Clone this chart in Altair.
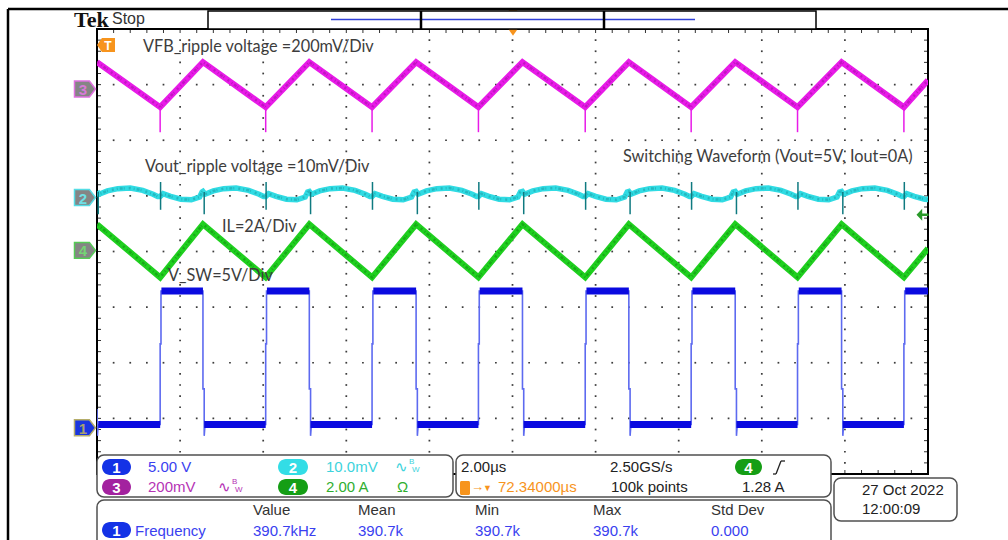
import altair as alt
import pandas as pd

# ------------------------------------------------------------------
# Acquisition: 2.00 us/div over 10 divisions, trigger at screen centre
# ------------------------------------------------------------------
T_MIN, T_MAX = -10.0, 10.0
D_MIN, D_MAX = -4.0, 4.0
T_GRID = [-10, -8, -6, -4, -2, 0, 2, 4, 6, 8, 10]
D_GRID = [-4, -3, -2, -1, 0, 1, 2, 3, 4]

# units per division and ground-marker offset (divisions) of each channel
ch_scale = {1: 5.0, 2: 10.0, 3: 200.0, 4: 2.0}      # V, mV, mV, A
ch_pos = {1: -3.17, 2: 0.97, 3: 2.92, 4: 0.02}

# switch-node edges (us)
sw_rise = [-8.48, -5.94, -3.38, -0.82, 1.75, 4.30, 6.86, 9.42]
sw_fall = [-10.00, -7.45, -4.89, -2.32, 0.24, 2.80, 5.36, 7.92]

# CH1  V_SW (V)
sw_high, sw_low = 12.3, 0.3
sw_rise_step, sw_fall_step, sw_undershoot, sw_left_top = 7.55, 3.5, -0.72, 1.7

# CH4  IL (A)
il_peak, il_valley, il_right = 0.94, -0.97, 0.07

# CH3  VFB ripple (mV)
vfb_peak, vfb_valley, vfb_spike, vfb_right = 97.0, -65.0, -155.0, 32.0

# CH2  Vout ripple (mV): shape after a rising and after a falling edge
vout_on_dt = [0.00, 0.07, 0.25, 0.50, 0.75, 0.95, 1.01]
vout_on_mv = [0.2, 0.7, 0.2, -0.3, -0.4, 0.1, 1.0]
vout_off_dt = [0.00, 0.05, 0.25, 0.50, 0.80, 1.10, 1.35, 1.46]
vout_off_mv = [1.1, 0.6, 1.2, 1.6, 1.7, 1.3, 0.6, 0.2]
vout_right = -0.2
vout_on_spike = [2.8, -2.2]
vout_off_spike = [1.0, -3.0]

trig_level = 1.28  # A on CH4

# trace colours
MAG, MAG_DK = "#e81be8", "#7a0c7a"
CYN, CYN_DK = "#30dbe3", "#0f7a80"
GRN, GRN_DK = "#1fd01f", "#0a640a"
BLU, BLU_EDGE = "#0a0ae0", "#5d6af0"
ORANGE = "#f7941d"
NOISE_DASH = [2, 3, 1, 2, 3, 1, 1, 4]

# page layout of the graticule
PX0, PY0, W, H = 97, 29, 831, 445

xs = alt.Scale(domain=[T_MIN, T_MAX], nice=False, zero=False)
ys = alt.Scale(domain=[D_MIN, D_MAX], nice=False, zero=False)
X = alt.X("t:Q", scale=xs, axis=None)
Y = alt.Y("d:Q", scale=ys, axis=None)


def div(ch, v):
    return ch_pos[ch] + v / ch_scale[ch]


edges = sorted([(t, "fall") for t in sw_fall] + [(t, "rise") for t in sw_rise])


def frame(rows, cols=("t", "d")):
    df = pd.DataFrame(rows, columns=list(cols))
    df["o"] = range(len(df))
    return df


def tri_trace(ch, peak, valley, right):
    rows = [(t, div(ch, peak if k == "fall" else valley)) for t, k in edges]
    rows.append((T_MAX, div(ch, right)))
    return frame(rows)


vfb_df = tri_trace(3, vfb_peak, vfb_valley, vfb_right)
il_df = tri_trace(4, il_peak, il_valley, il_right)

vout_rows = []
for t, k in edges:
    dts, mvs = (vout_off_dt, vout_off_mv) if k == "fall" else (vout_on_dt, vout_on_mv)
    vout_rows += [(t + a, div(2, b)) for a, b in zip(dts, mvs)]
vout_rows.append((T_MAX, div(2, vout_right)))
vout_df = frame(vout_rows)

# switch node: thin edges plus heavy flat levels
sw_rows = [(T_MIN, div(1, sw_left_top)), (T_MIN + 0.01, div(1, sw_undershoot)),
           (T_MIN + 0.03, div(1, sw_low))]
for t, k in edges[1:]:
    if k == "rise":
        sw_rows += [(t, div(1, sw_low)), (t, div(1, sw_rise_step)),
                    (t + 0.02, div(1, sw_rise_step)), (t + 0.02, div(1, sw_high))]
    else:
        sw_rows += [(t, div(1, sw_high)), (t, div(1, sw_fall_step)),
                    (t + 0.03, div(1, sw_fall_step)), (t + 0.03, div(1, sw_undershoot)),
                    (t + 0.05, div(1, sw_low))]
sw_rows.append((T_MAX, div(1, sw_high)))
sw_df = frame(sw_rows)

flat_rows = []
for i, (t, k) in enumerate(edges):
    t_next = edges[i + 1][0] if i + 1 < len(edges) else T_MAX
    flat_rows.append((t + 0.03, t_next, div(1, sw_high if k == "rise" else sw_low)))
flat_df = pd.DataFrame(flat_rows, columns=["t", "t2", "d"])

spike_rows = []
for t in sw_rise:
    spike_rows.append((t, div(3, vfb_valley), div(3, vfb_spike), MAG))
    spike_rows.append((t + 0.01, div(2, vout_on_spike[0]), div(2, vout_on_spike[1]), CYN_DK))
for t in sw_fall:
    spike_rows.append((t + 0.03, div(2, vout_off_spike[0]), div(2, vout_off_spike[1]), CYN_DK))
spike_df = pd.DataFrame(spike_rows, columns=["t", "d", "d2", "c"])

one = pd.DataFrame({"t": [0.0], "d": [0.0]})

# ---------------- graticule: dotted division lines, 5 dots per division ----------------
dot_rows = []
for t in T_GRID[1:-1]:
    dot_rows += [(t, D_MIN + 0.2 * k) for k in range(1, 40)]
for d in D_GRID[1:-1]:
    dot_rows += [(T_MIN + 0.4 * k, d) for k in range(1, 50) if (k % 5) != 0]
dots = alt.Chart(pd.DataFrame(dot_rows, columns=["t", "d"])).mark_square(
    size=3, color="#3c3c3c", opacity=1).encode(x=X, y=Y)

t_minor = pd.DataFrame({"t": [T_MIN + 0.4 * k for k in range(1, 50)]})
d_minor = pd.DataFrame({"d": [D_MIN + 0.2 * k for k in range(1, 40)]})
ticks = [
    alt.Chart(t_minor).mark_rule(color="#333", strokeWidth=1).encode(
        x=X, y=alt.value(0), y2=alt.value(4)),
    alt.Chart(t_minor).mark_rule(color="#333", strokeWidth=1).encode(
        x=X, y=alt.value(H - 4), y2=alt.value(H)),
    alt.Chart(d_minor).mark_rule(color="#333", strokeWidth=1).encode(
        y=Y, x=alt.value(0), x2=alt.value(4)),
    alt.Chart(d_minor).mark_rule(color="#333", strokeWidth=1).encode(
        y=Y, x=alt.value(W - 4), x2=alt.value(W)),
]

border = alt.Chart(one).mark_rect(fillOpacity=0, stroke="black", strokeWidth=2).encode(
    x=alt.value(0), x2=alt.value(W), y=alt.value(0), y2=alt.value(H))


# ---------------- traces ----------------
def trace(df, color, width, opacity=1.0, dash=None):
    props = dict(color=color, strokeWidth=width, opacity=opacity, clip=True,
                 strokeJoin="miter")
    if dash:
        props["strokeDash"] = dash
    return alt.Chart(df).mark_line(**props).encode(x=X, y=Y, order="o:Q")


traces = [
    trace(vfb_df, MAG, 6), trace(vfb_df, MAG_DK, 2.5, 0.35, NOISE_DASH),
    trace(vout_df, CYN, 5.5), trace(vout_df, CYN_DK, 2.5, 0.35, NOISE_DASH),
    trace(il_df, GRN, 6), trace(il_df, GRN_DK, 2.5, 0.35, NOISE_DASH),
    alt.Chart(spike_df).mark_rule(strokeWidth=1.5, clip=True).encode(
        x=X, y=Y, y2="d2:Q", color=alt.Color("c:N", scale=None)),
    trace(sw_df, BLU_EDGE, 1.6),
    alt.Chart(flat_df).mark_rule(color=BLU, strokeWidth=7, clip=True).encode(
        x=X, x2="t2:Q", y=Y),
]

# ---------------- markers ----------------
BADGE = "M -1 -0.76 L 0.42 -0.76 L 1 0 L 0.42 0.76 L -1 0.76 Z"
TFLAG = "M -1 0 L -0.45 -0.78 L 1 -0.78 L 1 0.78 L -0.45 0.78 Z"
TRI_DN = "M -1 -0.7 L 1 -0.7 L 0 0.7 Z"
ARROW_L = "M -1 0 L -0.05 -1 L -0.05 -0.22 L 1 -0.22 L 1 0.22 L -0.05 0.22 L -0.05 1 Z"

badge_df = pd.DataFrame({
    "x": [85 - PX0] * 4,
    "d": [ch_pos[3], ch_pos[2], ch_pos[4], ch_pos[1]],
    "fill": ["#858585", "#858585", "#858585", "#1a35e0"],
    "stroke": ["#e070e0", "#55dde5", "#55cc55", "#b5ad6a"],
    "digit": ["3", "2", "4", "1"],
    "dc": ["#d77ad7", "#6fe0e6", "#74d474", "#a8a070"],
})
badges = alt.Chart(badge_df).mark_point(shape=BADGE, size=441, filled=True, opacity=1,
                                        strokeWidth=1.5).encode(
    x=alt.X("x:Q", scale=None), y=Y,
    fill=alt.Fill("fill:N", scale=None), stroke=alt.Stroke("stroke:N", scale=None))
badge_txt = alt.Chart(badge_df).mark_text(font="Liberation Sans", fontWeight="bold",
                                          fontSize=15, align="center", baseline="middle",
                                          dx=-2, dy=1).encode(
    x=alt.X("x:Q", scale=None), y=Y, text="digit:N",
    color=alt.Color("dc:N", scale=None))

trig_df = pd.DataFrame({"x": [922.5 - PX0], "d": [div(4, trig_level)]})
trig_arrow = alt.Chart(trig_df).mark_point(shape=ARROW_L, size=144, filled=True, opacity=1,
                                           color="#2a9a2a").encode(
    x=alt.X("x:Q", scale=None), y=Y)

shape_df = pd.DataFrame([
    (106, 45, TFLAG, 324, ORANGE),
    (216, 22.5, TFLAG, 196, ORANGE),
    (513, 13.5, TRI_DN, 81, ORANGE),
    (513, 32.5, TRI_DN, 81, ORANGE),
], columns=["x", "y", "shape", "size", "fill"])
shape_df["x"] -= PX0
shape_df["y"] -= PY0
shapes = alt.Chart(shape_df).mark_point(filled=True, opacity=1, strokeWidth=0).encode(
    x=alt.X("x:Q", scale=None), y=alt.Y("y:Q", scale=None),
    shape=alt.Shape("shape:N", scale=None), size=alt.Size("size:Q", scale=None),
    fill=alt.Fill("fill:N", scale=None))


# ---------------- page chrome ----------------
def lines(rows):
    df = pd.DataFrame(rows, columns=["x", "y", "x2", "y2", "c", "w"])
    df[["x", "x2"]] -= PX0
    df[["y", "y2"]] -= PY0
    return alt.Chart(df).mark_rule(strokeCap="butt").encode(
        x=alt.X("x:Q", scale=None), x2="x2:Q", y=alt.Y("y:Q", scale=None), y2="y2:Q",
        color=alt.Color("c:N", scale=None), strokeWidth=alt.StrokeWidth("w:Q", scale=None))


def rects(rows, **mark):
    df = pd.DataFrame(rows, columns=["x", "y", "x2", "y2", "fill"])
    df[["x", "x2"]] -= PX0
    df[["y", "y2"]] -= PY0
    return alt.Chart(df).mark_rect(**mark).encode(
        x=alt.X("x:Q", scale=None), x2="x2:Q", y=alt.Y("y:Q", scale=None), y2="y2:Q",
        fill=alt.Fill("fill:N", scale=None))


def texts(rows, font="Liberation Sans", weight="normal", align="left", baseline="middle"):
    df = pd.DataFrame(rows, columns=["x", "y", "text", "color", "size"])
    df["x"] -= PX0
    df["y"] -= PY0
    return alt.Chart(df).mark_text(font=font, fontWeight=weight, align=align,
                                   baseline=baseline).encode(
        x=alt.X("x:Q", scale=None), y=alt.Y("y:Q", scale=None), text="text:N",
        color=alt.Color("color:N", scale=None), size=alt.Size("size:Q", scale=None))


outer = lines([
    (8, 9, 1008, 9, "black", 2.5),
    (8, 9, 8, 540, "black", 2.5),
])

record_box = rects([(208, 11, 816, 29, "white")], stroke="black", strokeWidth=1.5)
record_marks = lines([
    (331, 19.5, 695, 19.5, "#3040d8", 1.5),
    (421, 11, 421, 29, "black", 2.5),
    (604, 11, 604, 29, "black", 2.5),
])

tek = texts([(74, 26.5, "Tek", "#111111", 22)], font="Liberation Serif", weight="bold",
            baseline="alphabetic")
flag_t = texts([(108, 45.5, "T", "white", 12), (217, 23, "T", "white", 9),
                (465, 488, "T", "white", 11)], weight="bold", align="center")

notes = texts([
    (143, 47, "VFB_ripple voltage =200mV/Div", "#3d3d3d", 16.3),
    (145, 167, "Vout_ripple voltage =10mV/Div", "#3d3d3d", 16.3),
    (222, 227, "IL=2A/Div", "#3d3d3d", 16.3),
    (168, 276, "V_SW=5V/Div", "#3d3d3d", 16.3),
    (623, 157, "Switching Waveform (Vout=5V, Iout=0A)", "#3d3d3d", 16.3),
], font="Lato")

boxes = rects([
    (97, 455, 453, 497, "white"),
    (456, 455, 831, 497, "white"),
    (834, 478, 957, 521, "white"),
    (97, 500, 831, 562, "white"),
], cornerRadius=7, stroke="#505050", strokeWidth=1.5)

P_BLUE, P_CYAN, P_MAG, P_GREEN = "#1432e6", "#33dde6", "#a3229f", "#159e15"
pills = rects([
    (102, 459, 131, 475, P_BLUE),
    (102, 479, 131, 495, P_MAG),
    (278, 459, 308, 475, P_CYAN),
    (278, 479, 308, 495, P_GREEN),
    (735, 459, 762, 475, P_GREEN),
    (102, 522, 131, 538, P_BLUE),
], cornerRadius=8)
tbox = rects([(460, 481, 470, 495, ORANGE)], cornerRadius=1.5)
pill_txt = texts([
    (116.5, 467.5, "1", "white", 15), (116.5, 487.5, "3", "white", 15),
    (293, 467.5, "2", "white", 15), (293, 487.5, "4", "white", 15),
    (748.5, 467.5, "4", "white", 15), (116.5, 530.5, "1", "white", 15),
], weight="bold", align="center")

T_BLUE, T_CYAN, T_MAG, T_GREEN, T_DARK = "#3a3ff0", "#3dd3dc", "#b533b5", "#2fae2f", "#222222"
readouts = texts([
    (112, 19, "Stop", "#333333", 16),
    (148, 467, "5.00 V", T_BLUE, 15),
    (326, 467, "10.0mV", T_CYAN, 15),
    (395, 467, "\u223f", T_CYAN, 15), (409, 462, "B", T_CYAN, 8), (412, 470, "W", T_CYAN, 8),
    (148, 487, "200mV", T_MAG, 15),
    (218, 487, "\u223f", T_MAG, 15), (232, 482, "B", T_MAG, 8), (235, 490, "W", T_MAG, 8),
    (326, 487, "2.00 A", T_GREEN, 15),
    (397, 487, "\u03a9", T_GREEN, 15),
    (461, 467, "2.00\u00b5s", T_DARK, 15),
    (610, 467, "2.50GS/s", T_DARK, 15),
    (471, 487, "\u2192", ORANGE, 13),
    (483, 488, "\u25bc", ORANGE, 9),
    (498, 487, "72.34000\u00b5s", ORANGE, 15),
    (611, 487, "100k points", T_DARK, 15),
    (742, 487, "1.28 A", T_DARK, 15),
    (862, 490, "27 Oct  2022", T_DARK, 15),
    (862, 509, "12:00:09", T_DARK, 15),
    (253, 510, "Value", "#333333", 15),
    (358, 510, "Mean", "#333333", 15),
    (475, 510, "Min", "#333333", 15),
    (593, 510, "Max", "#333333", 15),
    (711, 510, "Std Dev", "#333333", 15),
    (135, 531, "Frequency", T_BLUE, 15),
    (253, 531, "390.7kHz", T_BLUE, 15),
    (358, 531, "390.7k", T_BLUE, 15),
    (475, 531, "390.7k", T_BLUE, 15),
    (593, 531, "390.7k", T_BLUE, 15),
    (711, 531, "0.000", T_BLUE, 15),
])
slope = lines([
    (773, 474, 776, 474, T_DARK, 1.3),
    (776, 474, 781, 461, T_DARK, 1.3),
    (781, 461, 785, 461, T_DARK, 1.3),
])

chart = alt.layer(
    dots, *ticks, border, *traces, badges, badge_txt, trig_arrow, shapes, flag_t,
    notes, outer, record_box, record_marks, tek,
    boxes, pills, tbox, pill_txt, readouts, slope,
).properties(
    width=W, height=H,
    padding={"left": PX0, "top": PY0, "right": 1008 - PX0 - W, "bottom": 540 - PY0 - H},
    autosize=alt.AutoSizeParams(type="none"),
    background="white",
).configure_view(stroke="transparent")

chart.save("out.html", embed_options={"renderer": "svg", "actions": False})
